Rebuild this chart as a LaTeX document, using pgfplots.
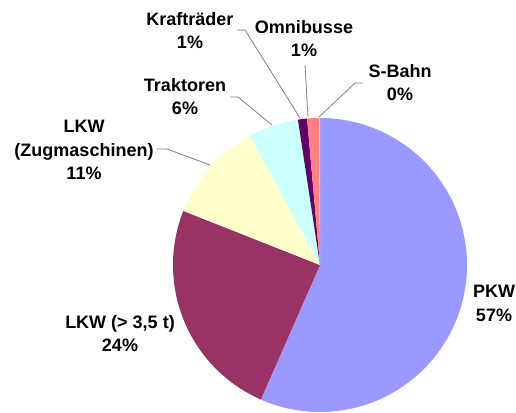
\documentclass[border=0pt]{standalone}
\usepackage{fontspec}
\setmainfont{Liberation Sans}
\usepackage{pgfplots}
\usepackage{pgfplotstable}
\pgfplotsset{compat=1.18}
\definecolor{cPKW}{HTML}{9999FF}
\definecolor{cLKW}{HTML}{993366}
\definecolor{cZug}{HTML}{FFFFCC}
\definecolor{cTrakt}{HTML}{CCFFFF}
\definecolor{cKraft}{HTML}{660066}
\definecolor{cOmni}{HTML}{FF8080}
\definecolor{cSB}{HTML}{CCCCFF}
\definecolor{leader}{HTML}{808080}
\tikzset{lbl/.style={font=\fontsize{18}{23.5}\selectfont\bfseries, align=center, text=black, inner sep=0pt}}
\pgfplotstableread{
name value
PKW 56.6
LKW 24.4
Zug 11.1
Trakt 5.5
Kraft 1.0
Omni 1.3
SBahn 0.1
}\piedata
\begin{document}
\begin{tikzpicture}
\pgfmathsetmacro\cA{0}
\pgfplotstablegetelem{0}{value}\of\piedata\pgfmathsetmacro\cB{\cA+\pgfplotsretval}
\pgfplotstablegetelem{1}{value}\of\piedata\pgfmathsetmacro\cC{\cB+\pgfplotsretval}
\pgfplotstablegetelem{2}{value}\of\piedata\pgfmathsetmacro\cD{\cC+\pgfplotsretval}
\pgfplotstablegetelem{3}{value}\of\piedata\pgfmathsetmacro\cE{\cD+\pgfplotsretval}
\pgfplotstablegetelem{4}{value}\of\piedata\pgfmathsetmacro\cF{\cE+\pgfplotsretval}
\pgfplotstablegetelem{5}{value}\of\piedata\pgfmathsetmacro\cG{\cF+\pgfplotsretval}
\pgfplotstablegetelem{6}{value}\of\piedata\pgfmathsetmacro\cH{\cG+\pgfplotsretval}
\foreach \n/\v in {A/\cA,B/\cB,C/\cC,D/\cD,E/\cE,F/\cF,G/\cG,H/\cH}{%
  \pgfmathsetmacro\tmp{90-3.6*\v}\expandafter\xdef\csname a\n\endcsname{\tmp}}
\begin{axis}[
  width=516pt, height=412pt, scale only axis,
  xmin=0, xmax=516, ymin=0, ymax=412,
  hide axis, clip=false,
]
\path (axis cs:0,0) rectangle (axis cs:516,412);
\addplot[fill=cPKW, draw=none, domain=\aB:\aA, samples=200] ({320+147*cos(x)},{147+147*sin(x)}) -- (axis cs:320,147) -- cycle;
\addplot[fill=cLKW, draw=none, domain=\aC:\aB, samples=100] ({320+147*cos(x)},{147+147*sin(x)}) -- (axis cs:320,147) -- cycle;
\addplot[fill=cZug, draw=none, domain=\aD:\aC, samples=60] ({320+147*cos(x)},{147+147*sin(x)}) -- (axis cs:320,147) -- cycle;
\addplot[fill=cTrakt, draw=none, domain=\aE:\aD, samples=30] ({320+147*cos(x)},{147+147*sin(x)}) -- (axis cs:320,147) -- cycle;
\addplot[fill=cKraft, draw=none, domain=\aF:\aE, samples=10] ({320+147*cos(x)},{147+147*sin(x)}) -- (axis cs:320,147) -- cycle;
\addplot[fill=cOmni, draw=none, domain=\aG:\aF, samples=10] ({320+147*cos(x)},{147+147*sin(x)}) -- (axis cs:320,147) -- cycle;
\addplot[fill=cSB, draw=none, domain=\aH:\aG, samples=5] ({320+147*cos(x)},{147+147*sin(x)}) -- (axis cs:320,147) -- cycle;
% leader lines
\addplot[leader, line width=0.8pt] coordinates {(237,382) (245,382) (300,294)};
\addplot[leader, line width=0.8pt] coordinates {(305,347) (308,295)};
\addplot[leader, line width=0.8pt] coordinates {(363,329) (355,329) (319,295)};
\addplot[leader, line width=0.8pt] coordinates {(230,315) (238,315) (272,287)};
\addplot[leader, line width=0.8pt] coordinates {(157,263) (167,263) (210,247)};
% labels
\node[lbl] at (axis cs:190,381.5) {Krafträder\\1\%};
\node[lbl] at (axis cs:304,373.5) {Omnibusse\\1\%};
\node[lbl] at (axis cs:400,329.5) {S-Bahn\\0\%};
\node[lbl] at (axis cs:185,315.5) {Traktoren\\6\%};
\node[lbl] at (axis cs:84,262) {LKW\\(Zugmaschinen)\\11\%};
\node[lbl] at (axis cs:120,78.5) {LKW (> 3,5 t)\\24\%};
\node[lbl] at (axis cs:494,108.5) {PKW\\57\%};
\end{axis}
\end{tikzpicture}
\end{document}
